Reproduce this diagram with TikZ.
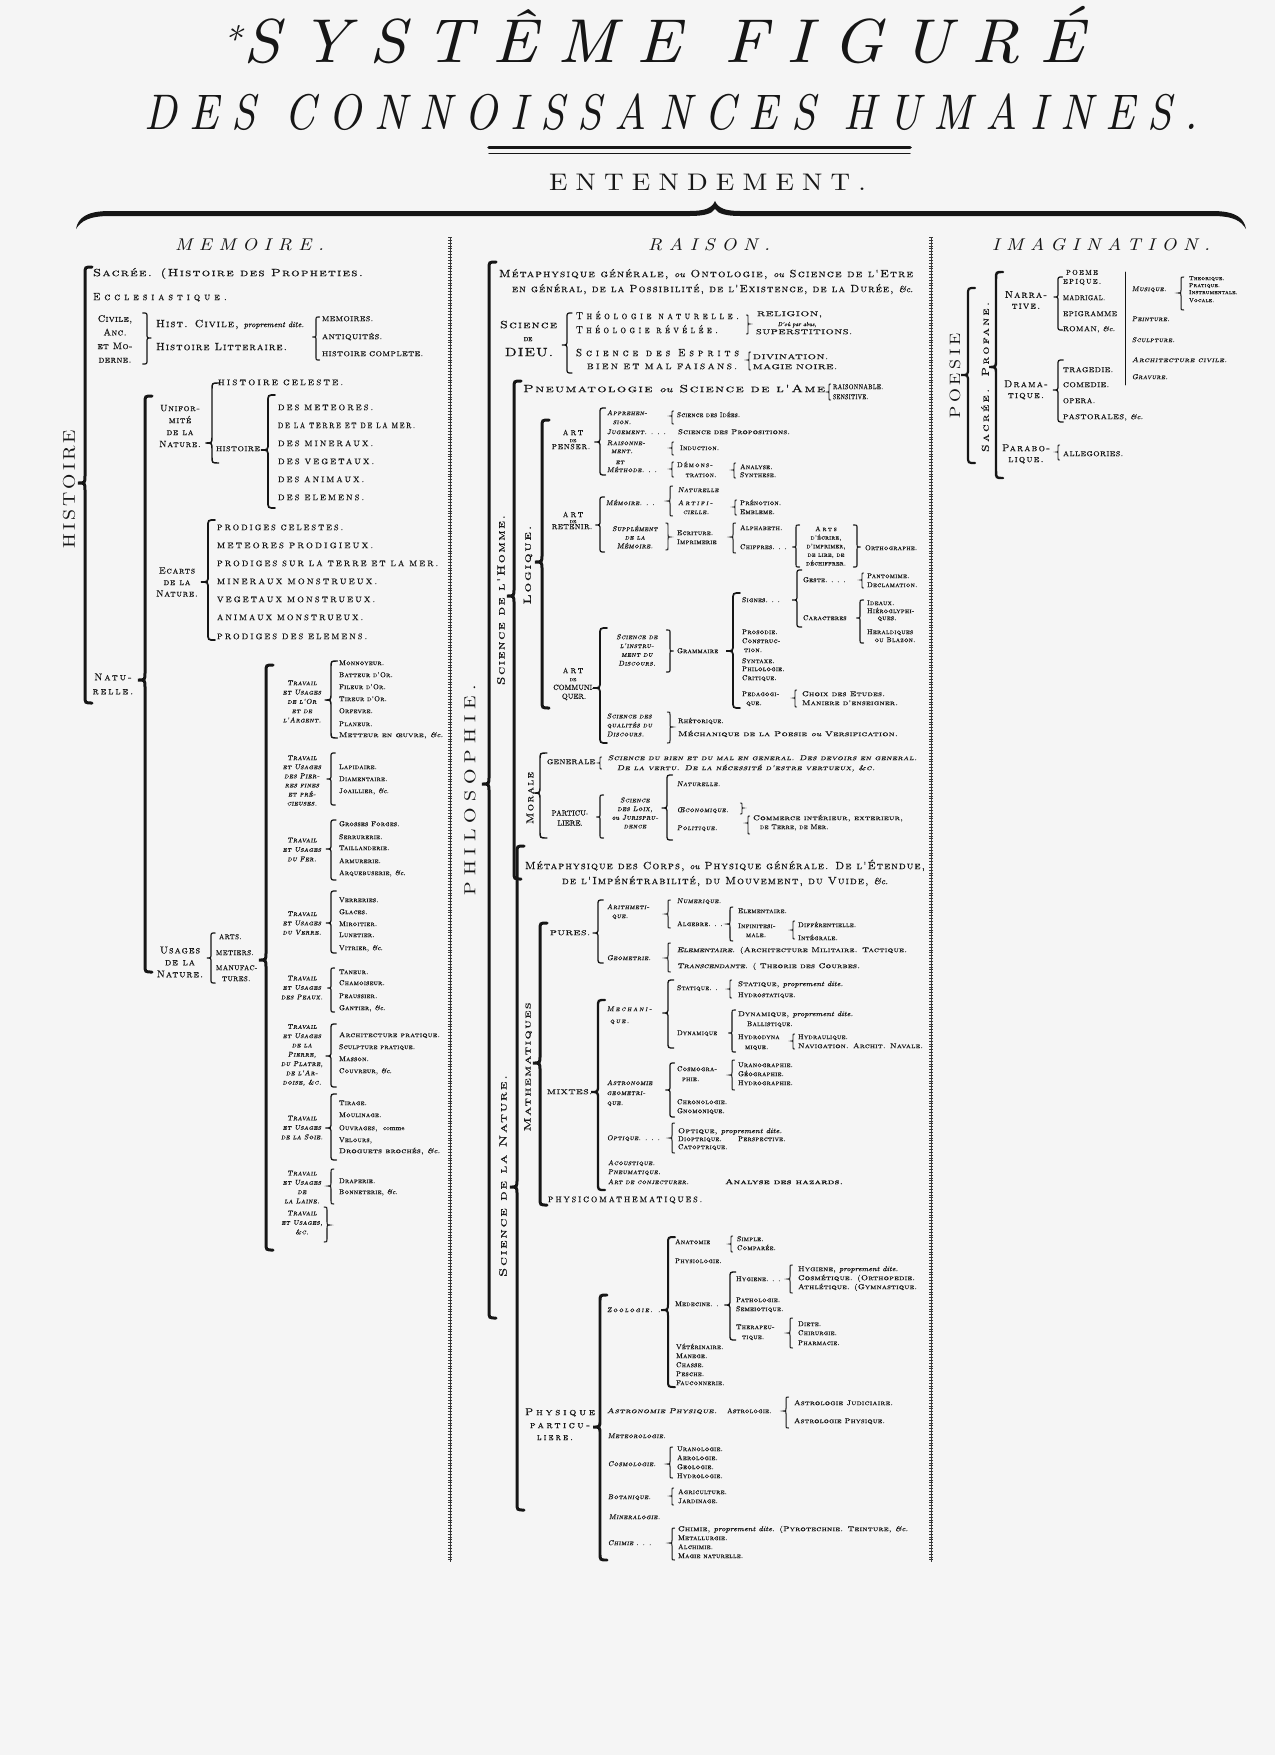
\documentclass[tikz,border=0pt]{standalone}
\usepackage{fontspec}
\usepackage{graphicx}
\setmainfont{lmroman10-regular}[Extension=.otf,ItalicFont=lmroman10-italic,BoldFont=lmroman10-bold,BoldItalicFont=lmroman10-bolditalic]
\newfontfamily\scF{lmromancaps10-regular}[Extension=.otf]
\newfontfamily\sciF{lmromancaps10-oblique}[Extension=.otf]
\definecolor{paper}{HTML}{F5F5F5}
\definecolor{ink}{HTML}{161616}
\newcommand\sz[2]{\fontsize{#1}{#2}\selectfont}
\newcommand\ls[1]{\addfontfeature{LetterSpace=#1}}
\newcommand\fb{\addfontfeature{FakeBold=0.6}}
\newcommand\Ou[1]{{\rmfamily\itshape\sz{#1}{#1}\fb ou}}
\newcommand\Pd[1]{{\rmfamily\itshape\sz{#1}{#1}\fb proprement dite.}}
\newcommand\Etc[1]{{\rmfamily\itshape\sz{#1}{#1}\fb\&c.}}
\newcommand\Tw[5]{\node[sL,#1] (#2) at (#3) {\resizebox{#4pt}{\height}{#5}};}
\newcommand\Tx[4]{\node[sL,#1] (#2) at (#3) {#4};}
\newcommand\LB[4]{%
 \pgfmathsetmacro\bw{min(7,max(1.6,(#4-#2)/12),(#3-#2)/2,(#4-#3)/2)}%
 \pgfmathsetmacro\bl{min(3,0.75+(#4-#2)/120)}%
 \draw[line width=\bl pt] ({#1+\bw},#2) .. controls (#1,#2) .. (#1,{#2+\bw}) -- (#1,{#3-\bw}) .. controls (#1,#3) .. ({#1-\bw},#3) .. controls (#1,#3) .. (#1,{#3+\bw}) -- (#1,{#4-\bw}) .. controls (#1,#4) .. ({#1+\bw},#4);}
\newcommand\RB[4]{%
 \pgfmathsetmacro\bw{min(7,max(1.6,(#4-#2)/12),(#3-#2)/2,(#4-#3)/2)}%
 \pgfmathsetmacro\bl{min(3,0.75+(#4-#2)/120)}%
 \draw[line width=\bl pt] ({#1-\bw},#2) .. controls (#1,#2) .. (#1,{#2+\bw}) -- (#1,{#3-\bw}) .. controls (#1,#3) .. ({#1+\bw},#3) .. controls (#1,#3) .. (#1,{#3+\bw}) -- (#1,{#4-\bw}) .. controls (#1,#4) .. ({#1-\bw},#4);}
\newcommand\Sep[1]{\draw[line width=0.45pt,line cap=butt,ink!85] (#1,237) -- (#1,1562); \draw[line width=4pt,line cap=butt,dash pattern=on 0.55pt off 2.3pt,ink!85] (#1,237) -- (#1,1562);}
\begin{document}
\begin{tikzpicture}[x=1pt,y=-1pt,color=ink,line cap=round,
  every node/.style={inner sep=0pt,outer sep=0pt},
  sL/.style={anchor=mid west}, sC/.style={anchor=mid}, sM/.style={anchor=center,align=center},
  sA/.style={font=\scF\sz{10.5}{13}\ls{10}\fb},
  sAw/.style={font=\scF\sz{10.5}{13}\ls{40}\fb},
  sU/.style={font=\rmfamily\sz{8}{10}\ls{25}\fb},
  sUs/.style={font=\rmfamily\sz{7}{9}\ls{6}\fb},
  st/.style={font=\scF\sz{7}{9}\ls{3}\fb},
  sti/.style={font=\sciF\sz{7}{9}\ls{6}\fb},
  sV/.style={rotate=90,anchor=center}]
\fill[paper] (0,0) rectangle (1275,1755);
\useasboundingbox (0,0) rectangle (1275,1755);
% ---------------- title
\node[anchor=base west,font=\rmfamily\itshape\sz{62}{62}\ls{30}] (title1) at (222,63) {\resizebox{862pt}{\height}{\raisebox{10pt}{\sz{36}{36}*}\hspace{2pt}SYSTÊME FIGURÉ}};
\node[anchor=base west,font=\rmfamily\itshape\sz{50}{50}\ls{30}] (title2) at (144,130) {\resizebox{1054pt}{\height}{DES CONNOISSANCES HUMAINES.}};
\draw[line width=3.6pt] (489,147.5) -- (910,147.5);
\draw[line width=1.1pt] (489,153.5) -- (910,153.5);
\node[anchor=base west,font=\rmfamily\sz{24}{24}\ls{30}] (entend) at (549,190) {\resizebox{317pt}{\height}{ENTENDEMENT.}};
\fill (76,229) .. controls (78,218) and (86,211) .. (110,211) -- (690,211) .. controls (705,211) and (712,208) .. (715,201) .. controls (718,208) and (725,211) .. (740,211) -- (1212,211) .. controls (1236,211) and (1244,218) .. (1246,229) .. controls (1241,221) and (1234,216) .. (1212,216) -- (740,216) .. controls (727,216) and (718,214) .. (715,209) .. controls (712,214) and (703,216) .. (690,216) -- (110,216) .. controls (89,216) and (81,221) .. (76,229) -- cycle;
\node[anchor=base west,font=\rmfamily\itshape\sz{17}{17}\ls{35}] (hmem) at (175,250) {\resizebox{149pt}{\height}{MEMOIRE.}};
\node[anchor=base west,font=\rmfamily\itshape\sz{17}{17}\ls{35}] (hrais) at (648,250) {\resizebox{122pt}{\height}{RAISON.}};
\node[anchor=base west,font=\rmfamily\itshape\sz{17}{17}\ls{35}] (himag) at (992,250) {\resizebox{218pt}{\height}{IMAGINATION.}};
\Sep{450}
\Sep{931}
% ---------------- MEMOIRE
\node[sV,font=\rmfamily\sz{17}{17}\ls{15}] (histoire) at (69,489) {\resizebox{118pt}{\height}{HISTOIRE}};
\LB{85}{267}{483}{703}
\Tw{sA}{sacree}{93,274}{270}{Sacrée. (Histoire des Propheties.}
\Tw{sAw}{eccl}{93,298}{134}{Ecclesiastique.}
\node[sM,font=\scF\sz{9.5}{13.6}\ls{4}\fb] (civile) at (115,339) {Civile,\\Anc.\\et Mo-\\derne.};
\RB{147}{313}{338}{364}
\Tw{sA}{hcivile}{156,325}{148}{Hist. Civile, \Pd{8}}
\Tw{sA}{hlitt}{156,348}{131}{Histoire Litteraire.}
\LB{316}{317}{337}{360}
\Tw{sUs}{memoires}{322,319}{51}{MEMOIRES.}
\Tw{sUs}{antiq}{322,337}{60}{ANTIQUITÉS.}
\Tw{sUs}{hcompl}{322,354}{101}{HISTOIRE COMPLETE.}
\node[sM,font=\scF\sz{10}{14}\ls{20}\fb] (naturelle) at (113,684) {Natu-\\relle.};
\LB{145}{396}{680}{972}
\node[sM,font=\scF\sz{9.2}{12}\ls{8}\fb] (uniform) at (180,426) {Unifor-\\mité\\de la\\Nature.};
\LB{212}{383}{443}{463}
\Tw{sU}{hceleste}{218,383}{125}{HISTOIRE CELESTE.}
\Tw{sUs}{histsub}{216,449}{44}{HISTOIRE}
\LB{268}{395}{450}{508}
\Tw{sU}{meteores}{278,408}{95}{DES METEORES.}
\Tw{sU}{terremer}{278,426}{137}{DE LA TERRE ET DE LA MER.}
\Tw{sU}{mineraux}{278,444}{95}{DES MINERAUX.}
\Tw{sU}{vegetaux}{278,462}{96}{DES VEGETAUX.}
\Tw{sU}{animaux}{278,480}{86}{DES ANIMAUX.}
\Tw{sU}{elemens}{278,498}{86}{DES ELEMENS.}
\node[sM,font=\scF\sz{9.2}{11.5}\ls{8}\fb] (ecarts) at (177,582) {Ecarts\\de la\\Nature.};
\LB{208}{520}{582}{640}
\Tw{sU}{pcelestes}{217,528}{126}{PRODIGES CELESTES.}
\Tw{sU}{mprodig}{217,546}{156}{METEORES PRODIGIEUX.}
\Tw{sU}{pterre}{217,564}{221}{PRODIGES SUR LA TERRE ET LA MER.}
\Tw{sU}{mmonstr}{217,582}{160}{MINERAUX MONSTRUEUX.}
\Tw{sU}{vmonstr}{217,600}{158}{VEGETAUX MONSTRUEUX.}
\Tw{sU}{amonstr}{217,618}{146}{ANIMAUX MONSTRUEUX.}
\Tw{sU}{pelemens}{217,637}{150}{PRODIGES DES ELEMENS.}
\node[sM,font=\scF\sz{10}{12}\ls{10}\fb] (usages) at (180,962) {Usages\\de la\\Nature.};
\LB{211}{933}{958}{983}
\Tx{sUs}{arts}{219,937}{ARTS.}
\Tx{sUs}{metiers}{216,953}{METIERS.}
\Tx{sUs}{manuf}{216,968}{MANUFAC-}
\Tx{sUs}{tures}{222,979}{TURES.}
\LB{266}{665}{960}{1250}
\node[sM,font=\sciF\sz{7}{9.3}\ls{6}\fb] (trA) at (302,701.5) {Travail\\et Usages\\de l'Or\\et de\\l'Argent.};
\node[sM,font=\sciF\sz{7}{9.1}\ls{6}\fb] (trB) at (302,780.5) {Travail\\et Usages\\des Pier-\\res fines\\et pré-\\cieuses.};
\node[sM,font=\sciF\sz{7}{9.5}\ls{6}\fb] (trC) at (302,849.5) {Travail\\et Usages\\du Fer.};
\node[sM,font=\sciF\sz{7}{9.3}\ls{6}\fb] (trD) at (302,923) {Travail\\et Usages\\du Verre.};
\node[sM,font=\sciF\sz{7}{9.5}\ls{6}\fb] (trE) at (302,987.5) {Travail\\et Usages\\des Peaux.};
\node[sM,font=\sciF\sz{7}{9.3}\ls{6}\fb] (trF) at (302,1055) {Travail\\et Usages\\de la\\Pierre,\\du Platre,\\de l'Ar-\\doise, \&c.};
\node[sM,font=\sciF\sz{7}{9.5}\ls{6}\fb] (trG) at (302,1127.5) {Travail\\et Usages\\de la Soie.};
\node[sM,font=\sciF\sz{7}{9.3}\ls{6}\fb] (trH) at (302,1187) {Travail\\et Usages\\de\\la Laine.};
\node[sM,font=\sciF\sz{7}{9.5}\ls{6}\fb] (trI) at (302,1222.5) {Travail\\et Usages,\\\&c.};
\LB{331}{661}{700}{738}
\LB{331}{753}{779}{805}
\LB{331}{820}{849}{880}
\LB{331}{891}{923}{953}
\LB{331}{968}{988}{1012}
\LB{331}{1024}{1056}{1087}
\LB{331}{1094}{1128}{1160}
\LB{331}{1169}{1186}{1204}
\RB{327}{1207}{1225}{1242}
\Tx{st}{ia1}{339,663}{Monnoyeur.}
\Tx{st}{ia2}{339,675}{Batteur d'Or.}
\Tx{st}{ia3}{339,687}{Fileur d'Or.}
\Tx{st}{ia4}{339,699}{Tireur d'Or.}
\Tx{st}{ia5}{339,711}{Orfevre.}
\Tx{st}{ia6}{339,724}{Planeur.}
\Tw{st}{ia7}{339,735}{104}{Metteur en œuvre, \Etc{7}}
\Tx{st}{ib1}{339,767}{Lapidaire.}
\Tx{st}{ib2}{339,779}{Diamentaire.}
\Tx{st}{ib3}{339,791}{Joaillier, \Etc{7}}
\Tx{st}{ic1}{339,824}{Grosses Forges.}
\Tx{st}{ic2}{339,837}{Serrurerie.}
\Tx{st}{ic3}{339,848}{Taillanderie.}
\Tx{st}{ic4}{339,861}{Armurerie.}
\Tx{st}{ic5}{339,873}{Arquebuserie, \Etc{7}}
\Tx{st}{id1}{339,900}{Verreries.}
\Tx{st}{id2}{339,912}{Glaces.}
\Tx{st}{id3}{339,924}{Miroitier.}
\Tx{st}{id4}{339,935}{Lunetier.}
\Tx{st}{id5}{339,948}{Vitrier, \Etc{7}}
\Tx{st}{ie1}{339,972}{Taneur.}
\Tx{st}{ie2}{339,983}{Chamoiseur.}
\Tx{st}{ie3}{339,996}{Peaussier.}
\Tx{st}{ie4}{339,1008}{Gantier, \Etc{7}}
\Tw{st}{if1}{339,1035}{101}{Architecture pratique.}
\Tx{st}{if2}{339,1047}{Sculpture pratique.}
\Tx{st}{if3}{339,1059}{Masson.}
\Tx{st}{if4}{339,1071}{Couvreur, \Etc{7}}
\Tx{st}{ig1}{339,1103}{Tirage.}
\Tx{st}{ig2}{339,1115}{Moulinage.}
\Tx{st}{ig3}{339,1128}{Ouvrages, \ {\rmfamily\fb comme}}
\Tx{st}{ig4}{339,1140}{Velours,}
\Tw{st}{ig5}{339,1151}{101}{Droguets brochés, \Etc{7}}
\Tx{st}{ih1}{339,1181}{Draperie.}
\Tx{st}{ih2}{339,1192}{Bonneterie, \Etc{7}}
% ---------------- RAISON
\node[sV,font=\rmfamily\sz{16}{16}\ls{30}] (philo) at (470,790) {\resizebox{211pt}{\height}{PHILOSOPHIE.}};
\LB{489}{262}{784}{1318}
\Tw{sA}{meta1}{499,275}{414}{Métaphysique générale, \Ou{9} Ontologie, \Ou{9} Science de l'Etre}
\Tw{sA}{meta2}{512,290}{401}{en général, de la Possibilité, de l'Existence, de la Durée, \Etc{9}}
\Tw{sC,sA}{sdieu1}{528.5,326}{57}{Science}
\node[sC,font=\rmfamily\sz{6}{6}\fb] (sdieu2) at (528,339) {DE};
\node[sC,font=\rmfamily\sz{12}{12}\ls{8}\fb] (sdieu3) at (529,354) {\resizebox{48pt}{\height}{DIEU.}};
\LB{567}{313}{345}{373}
\Tw{sAw}{theonat}{576,317}{163}{Théologie naturelle.}
\Tw{sAw}{theorev}{576,331}{142}{Théologie révélée.}
\Tw{sAw}{sesprits}{576,354}{163}{Science des Esprits}
\Tw{sU}{bienmal}{587,367}{150}{BIEN ET MAL FAISANS.}
\RB{748}{315}{324}{334}
\Tw{sUs}{religion}{757,314}{65}{RELIGION,}
\node[sC,font=\rmfamily\itshape\sz{6}{6}\fb] (abus) at (797,324) {D'où par abus,};
\Tw{sUs}{superst}{756,332}{96}{SUPERSTITIONS.}
\LB{749}{352}{360}{370}
\Tw{sUs}{divin}{753,357}{75}{DIVINATION.}
\Tw{sUs}{magien}{753,367}{84}{MAGIE NOIRE.}
\node[sV,font=\scF\sz{10.5}{10.5}\ls{12}\fb] (scihom) at (501,600) {\resizebox{170pt}{\height}{Science de l'Homme.}};
\LB{514}{381}{596}{879}
\Tw{sA}{pneumat}{523,390}{302}{Pneumatologie \Ou{9} Science de l'Ame}
\LB{829}{384}{392}{400}
\Tw{sUs}{raisonn}{833,387}{50}{RAISONNABLE.}
\Tw{sUs}{sensit}{833,397}{35}{SENSITIVE.}
\node[sV,font=\scF\sz{10.5}{10.5}\ls{12}\fb] (logique) at (528,565) {\resizebox{79pt}{\height}{Logique.}};
\LB{542}{420}{562}{708}
% art de penser
\node[sC,font=\rmfamily\sz{7.5}{7.5}\ls{30}\fb] (penA) at (573,433) {ART};
\node[sC,font=\rmfamily\sz{4.5}{4.5}\fb] (penB) at (573,440) {DE};
\node[sC,font=\rmfamily\sz{7.5}{7.5}\ls{12}\fb] (penC) at (571,447) {PENSER.};
\LB{600}{408}{442}{475}
\Tx{sti}{appr1}{607,413}{Apprehen-}
\Tx{sC,sti}{appr2}{622,422}{sion.}
\Tx{sti}{jugem}{607,432}{Jugement. . . .}
\Tw{st}{sprop}{678,432}{112}{Science des Propositions.}
\Tx{sti}{raisn1}{607,443}{Raisonne-}
\Tx{sC,sti}{raisn2}{622,451}{ment.}
\Tx{sC,sti}{etm}{620,462}{et}
\Tx{sti}{methode}{607,470}{Méthode. . .}
\LB{672}{411}{416}{424}
\Tw{st}{sidees}{677,415}{63}{Science des Idées.}
\LB{672}{442}{448}{455}
\Tx{st}{induct}{680,448}{Induction.}
\LB{672}{462}{469}{477}
\Tx{st}{demon1}{677,465}{\addfontfeature{LetterSpace=15}Démons-}
\Tx{sC,st}{demon2}{701,475}{tration.}
\LB{734}{463}{470}{478}
\Tx{st}{analyse}{740,467}{Analyse.}
\Tx{st}{synth}{740,475}{Synthese.}
% art de retenir
\node[sC,font=\rmfamily\sz{7.5}{7.5}\ls{30}\fb] (retA) at (573,515) {ART};
\node[sC,font=\rmfamily\sz{4.5}{4.5}\fb] (retB) at (573,521) {DE};
\node[sC,font=\rmfamily\sz{7.5}{7.5}\ls{6}\fb] (retC) at (572,527) {RETENIR.};
\LB{600}{497}{525}{552}
\Tx{sti}{memre}{606,503}{Mémoire. . .}
\LB{670}{486}{501}{516}
\Tx{sti}{natle}{678,490}{Naturelle}
\Tx{sti}{artifi}{678,503}{\addfontfeature{LetterSpace=25}Artifi-}
\Tx{sC,sti}{cielle}{696,512}{cielle.}
\LB{735}{500}{507}{515}
\Tx{st}{prenot}{740,503}{Prénotion.}
\Tx{st}{emblem}{740,512}{Embleme.}
\node[sM,font=\sciF\sz{7}{8.6}\ls{6}\fb] (supplem) at (635,537) {Supplément\\de la\\Mémoire.};
\RB{668}{523}{537}{550}
\Tx{st}{ecrit}{677,533}{Ecriture.}
\Tx{st}{imprim}{677,542}{Imprimerie}
\LB{733}{523}{537}{553}
\Tx{st}{alphab}{740,528}{Alphabeth.}
\Tx{st}{chiffr}{740,547}{Chiffres. . .}
\LB{796}{525}{547}{567}
\node[sM,font=\scF\sz{6.5}{8.6}\ls{3}\fb] (artsecr) at (826,546) {{\ls{30}Arts}\\d'écrire,\\d'imprimer,\\de lire, de\\déchiffrer.};
\RB{857}{525}{547}{567}
\Tx{st}{orthog}{865,548}{Orthographe.}
% art de communiquer
\node[sC,font=\rmfamily\sz{7.5}{7.5}\ls{30}\fb] (comA) at (573,671) {ART};
\node[sC,font=\rmfamily\sz{4.5}{4.5}\fb] (comB) at (573,679) {DE};
\node[sM,font=\rmfamily\sz{7.5}{9}\fb] (comC) at (574,692.5) {COMMUNI-\\QUER.};
\LB{600}{628}{688}{743}
\node[sM,font=\sciF\sz{7}{8.8}\ls{6}\fb] (sinstr) at (637,650) {Science de\\l'instru-\\ment du\\Discours.};
\RB{670}{630}{651}{672}
\Tx{st}{gramm}{677,651}{Grammaire}
\LB{733}{593}{651}{708}
\Tx{st}{signes}{742,600}{Signes. . .}
\LB{797}{570}{600}{627}
\Tx{st}{geste}{803,580}{Geste. . . .}
\LB{862}{573}{580}{588}
\Tx{st}{panto}{867,576}{Pantomime.}
\Tx{st}{declam}{867,585}{Declamation.}
\Tx{st}{caract}{803,618}{Caracteres}
\LB{860}{600}{618}{643}
\Tx{st}{ideaux}{867,603}{Ideaux.}
\Tx{st}{hierog}{867,611}{Hiéroglyphi-}
\Tx{sC,st}{hques}{887,618}{ques.}
\Tx{st}{herald}{867,632}{Heraldiques}
\Tx{sC,st}{blazon}{895,640}{ou Blazon.}
\Tx{st}{prosod}{742,632}{Prosodie.}
\Tx{st}{constr}{742,641}{Construc-}
\Tx{sC,st}{ction}{753,650}{tion.}
\Tx{st}{syntax}{742,661}{Syntaxe.}
\Tx{st}{philol}{742,669}{Philologie.}
\Tx{st}{critiq}{742,678}{Critique.}
\Tx{st}{pedag}{742,694}{Pedagogi-}
\Tx{sC,st}{pque}{754,703}{que.}
\LB{795}{690}{698}{707}
\Tw{st}{choix}{802,694}{83}{Choix des Etudes.}
\Tw{st}{maniere}{802,703}{96}{Maniere d'enseigner.}
\node[anchor=west,align=left,font=\sciF\sz{7}{9}\ls{6}\fb] (squal) at (607,725) {Science des\\qualités du\\Discours.};
\RB{670}{712}{727}{743}
\Tx{st}{rhetor}{678,721}{Rhétorique.}
\Tw{st}{mechan}{678,734}{220}{Méchanique de la Poesie \Ou{7} Versification.}
% morale
\node[sV,font=\scF\sz{10}{10}\ls{12}\fb] (morale) at (530,798) {\resizebox{52pt}{\height}{Morale}};
\LB{540}{753}{793}{838}
\Tw{sUs}{generale}{547,762}{48}{GENERALE}
\LB{600}{757}{763}{769}
\Tw{sti}{sbien1}{608,758}{309}{Science du bien et du mal en general. Des devoirs en general.}
\Tw{sti}{sbien2}{617,768}{258}{De la vertu. De la nécessité d'estre vertueux, \&c.}
\node[sM,font=\rmfamily\sz{7.5}{10}\fb] (particu) at (570,818) {PARTICU-\\LIERE.};
\LB{600}{795}{817}{838}
\node[sM,font=\sciF\sz{7}{8.7}\ls{6}\fb] (sloix) at (635,813) {Science\\des Loix,\\\Ou{7} Jurispru-\\dence};
\LB{667}{775}{808}{840}
\Tx{sti}{natrl}{677,784}{Naturelle.}
\Tx{sti}{oecon}{677,810}{Œconomique.}
\Tx{sti}{polit}{677,828}{Politique.}
\RB{742}{803}{808}{814}
\LB{748}{816}{823}{834}
\Tw{st}{commer}{753,818}{150}{Commerce intérieur, exterieur,}
\Tx{st}{terremr}{760,827}{de Terre, de Mer.}
% science de la nature
\node[sV,font=\scF\sz{10.5}{10.5}\ls{12}\fb] (scinat) at (503,1176) {\resizebox{202pt}{\height}{Science de la Nature.}};
\LB{517}{846}{1187}{1510}
\Tw{sA}{mcorps1}{525,867}{400}{Métaphysique des Corps, \Ou{9} Physique générale. De l'Étendue,}
\Tw{sA}{mcorps2}{562,882}{326}{de l'Impénétrabilité, du Mouvement, du Vuide, \Etc{9}}
\node[sV,font=\scF\sz{9.5}{9.5}\ls{10}\fb] (mathem) at (528,1067) {\resizebox{129pt}{\height}{Mathematiques}};
\LB{540}{923}{1063}{1205}
\Tw{sUs}{pures}{550,933}{40}{PURES.}
\LB{598}{900}{933}{963}
\Tx{sti}{arith1}{607,907}{Arithmeti-}
\Tx{sC,sti}{arith2}{620,916}{que.}
\LB{668}{900}{914}{928}
\Tx{sti}{numer}{677,901}{Numerique.}
\Tx{st}{algeb}{677,924}{Algebre. . .}
\LB{730}{907}{924}{941}
\Tx{st}{elemt}{738,911}{Elementaire.}
\Tx{st}{infin1}{738,926}{Infinitesi-}
\Tx{sC,st}{infin2}{756,935}{male.}
\LB{793}{921}{930}{939}
\Tx{st}{differ}{798,925}{Différentielle.}
\Tx{st}{integr}{798,938}{Intégrale.}
\Tx{sti}{geomet}{607,958}{Geometrie.}
\LB{668}{943}{958}{972}
\Tw{st}{geom1}{677,950}{230}{{\sciF\fb Elementaire.} (Architecture Militaire. Tactique.}
\Tw{st}{geom2}{677,966}{183}{{\sciF\fb Transcendante.} ( Theorie des Courbes.}
\Tw{sUs}{mixtes}{547,1092}{45}{MIXTES.}
\LB{598}{1000}{1092}{1190}
\Tx{sti}{mecha1}{607,1009}{\addfontfeature{LetterSpace=25}Mechani-}
\Tx{sti}{mecha2}{610,1021}{\addfontfeature{LetterSpace=20}que.}
\LB{668}{980}{1013}{1048}
\Tx{st}{statiq}{677,988}{Statique. .}
\LB{730}{980}{989}{998}
\Tw{st}{stat1}{738,984}{105}{Statique, \Pd{7}}
\Tx{st}{stat2}{738,995}{Hydrostatique.}
\Tx{st}{dynam}{677,1033}{Dynamique}
\LB{732}{1010}{1033}{1052}
\Tw{st}{dyn1}{738,1014}{115}{Dynamique, \Pd{7}}
\Tx{st}{dyn2}{747,1024}{Ballistique.}
\Tx{st}{dyn3}{738,1037}{Hydrodyna}
\Tx{st}{dyn4}{745,1047}{mique.}
\LB{793}{1034}{1041}{1049}
\Tx{st}{hydrau}{798,1037}{Hydraulique.}
\Tw{st}{navig}{798,1046}{125}{Navigation. Archit. Navale.}
\node[anchor=west,align=left,font=\sciF\sz{7}{10}\ls{6}\fb] (astgeo) at (607,1093) {Astronomie\\ geometri-\\ que.};
\LB{670}{1063}{1090}{1117}
\Tx{st}{cosmg1}{677,1069}{Cosmogra-}
\Tx{st}{cosmg2}{682,1079}{phie.}
\LB{732}{1060}{1075}{1090}
\Tx{st}{uranog}{738,1065}{Uranographie.}
\Tx{st}{geogr}{738,1074}{Géographie.}
\Tx{st}{hydrog}{738,1083}{Hydrographie.}
\Tx{st}{chrono}{677,1102}{Chronologie.}
\Tx{st}{gnomon}{677,1111}{Gnomonique.}
\Tx{sti}{optiq}{607,1138}{Optique. . . .}
\LB{672}{1123}{1138}{1153}
\Tw{st}{opt1}{678,1131}{104}{Optique, \Pd{7}}
\Tx{st}{opt2}{678,1139}{Dioptrique.}
\Tx{st}{perspc}{738,1139}{Perspective.}
\Tx{st}{opt3}{678,1147}{Catoptrique.}
\Tx{sti}{acoust}{608,1163}{Acoustique.}
\Tx{sti}{pneumq}{608,1172}{Pneumatique.}
\Tx{sti}{conject}{608,1182}{Art de conjecturer.}
\Tw{st}{hazard}{725,1182}{118}{\addfontfeature{FakeBold=1.8}Analyse des hazards.}
\Tw{sU}{physmath}{548,1200}{154}{PHYSICOMATHEMATIQUES.}
% physique particuliere
\node[sC,font=\scF\sz{10}{10}\ls{25}\fb] (phys1) at (560,1413) {\resizebox{70pt}{\height}{Physique}};
\node[sC,font=\scF\sz{10}{10}\ls{25}\fb] (phys2) at (560,1426) {\resizebox{60pt}{\height}{particu-}};
\node[sC,font=\scF\sz{10}{10}\ls{25}\fb] (phys3) at (555,1438) {\resizebox{36pt}{\height}{liere.}};
\LB{600}{1295}{1427}{1560}
\Tx{sti}{zoolog}{607,1310}{\addfontfeature{LetterSpace=20}Zoologie. . .}
\LB{668}{1237}{1310}{1387}
\Tx{st}{anatom}{675,1242}{Anatomie}
\LB{731}{1236}{1244}{1252}
\Tx{st}{simple}{737,1239}{Simple.}
\Tx{st}{compar}{737,1248}{Comparée.}
\Tx{st}{physio}{675,1261}{Physiologie.}
\Tx{st}{medec}{675,1304}{Medecine. .}
\LB{730}{1272}{1305}{1340}
\Tx{st}{hygien}{736,1279}{Hygiene. . .}
\LB{790}{1265}{1279}{1293}
\Tw{st}{hyg1}{798,1269}{100}{Hygiene, \Pd{7}}
\Tw{st}{hyg2}{798,1278}{117}{Cosmétique. (Orthopedie.}
\Tw{st}{hyg3}{798,1287}{119}{Athlétique. (Gymnastique.}
\Tx{st}{pathol}{736,1300}{Pathologie.}
\Tx{st}{semeio}{736,1309}{Semeiotique.}
\Tx{st}{thera1}{736,1327}{Therapeu-}
\Tx{st}{thera2}{742,1337}{tique.}
\LB{790}{1318}{1333}{1348}
\Tx{st}{diete}{798,1324}{Diete.}
\Tx{st}{chirur}{798,1333}{Chirurgie.}
\Tx{st}{pharma}{798,1343}{Pharmacie.}
\Tx{st}{veter}{676,1347}{Vétérinaire.}
\Tx{st}{manege}{676,1356}{Manege.}
\Tx{st}{chasse}{676,1365}{Chasse.}
\Tx{st}{pesche}{676,1374}{Pesche.}
\Tx{st}{faucon}{676,1383}{Fauconnerie.}
\Tw{sti}{astphy}{607,1411}{110}{Astronomie Physique.}
\Tx{st}{astrol}{727,1411}{Astrologie.}
\LB{786}{1397}{1411}{1428}
\Tw{st}{astjud}{794,1403}{99}{Astrologie Judiciaire.}
\Tw{st}{astphs}{794,1421}{91}{Astrologie Physique.}
\Tx{sti}{meteor}{608,1436}{Meteorologie.}
\Tx{sti}{cosmol}{608,1464}{Cosmologie.}
\LB{670}{1447}{1464}{1478}
\Tx{st}{uranol}{677,1449}{Uranologie.}
\Tx{st}{aerol}{677,1458}{Aerologie.}
\Tx{st}{geolog}{677,1467}{Geologie.}
\Tx{st}{hydrol}{677,1476}{Hydrologie.}
\Tx{sti}{botan}{608,1497}{Botanique.}
\LB{672}{1488}{1496}{1505}
\Tx{st}{agric}{678,1492}{Agriculture.}
\Tx{st}{jardin}{678,1501}{Jardinage.}
\Tx{sti}{minera}{609,1517}{Mineralogie.}
\Tx{sti}{chimie}{608,1543}{Chimie . . .}
\LB{672}{1528}{1543}{1560}
\Tw{st}{chim1}{678,1529}{230}{Chimie, \Pd{7} (Pyrotechnie. Teinture, \Etc{7}}
\Tx{st}{chim2}{678,1538}{Metallurgie.}
\Tx{st}{chim3}{678,1547}{Alchimie.}
\Tx{st}{chim4}{678,1556}{Magie naturelle.}
% ---------------- IMAGINATION
\node[sV,font=\rmfamily\sz{15}{15}\ls{20}] (poesie) at (955,376) {\resizebox{85pt}{\height}{POESIE}};
\LB{968}{288}{375}{463}
\node[sV,font=\scF\sz{10}{10}\ls{20}\fb] (sacprof) at (985,377) {\resizebox{150pt}{\height}{Sacrée.\hspace{10pt}Profane.}};
\LB{996}{272}{367}{478}
\node[sM,font=\scF\sz{10}{11}\ls{12}\fb] (narrat) at (1026,300) {Narra-\\tive.};
\LB{1058}{277}{297}{330}
\node[sM,font=\rmfamily\sz{7}{9}\ls{20}\fb] (poeme) at (1082,277.5) {POEME\\EPIQUE.};
\Tw{sUs}{madrig}{1063,298}{42}{MADRIGAL.}
\Tw{sUs}{epigr}{1063,314}{54}{EPIGRAMME}
\Tw{sUs}{roman}{1063,329}{52}{ROMAN, \Etc{7}}
\draw[line width=0.8pt] (1125,272) -- (1125,385);
\Tx{sti}{musiq}{1132,289}{Musique.}
\LB{1181}{277}{293}{310}
\Tx{st}{theor}{1189,278}{\sz{6}{6}Theorique.}
\Tx{st}{pratiq}{1189,285}{\sz{6}{6}Pratique.}
\Tx{st}{instrm}{1189,292}{\sz{6}{6}Instrumentale.}
\Tx{st}{vocal}{1189,300}{\sz{6}{6}Vocale.}
\Tx{sti}{peint}{1132,319}{Peinture.}
\Tx{sti}{sculpt}{1132,340}{Sculpture.}
\Tw{sti}{archciv}{1132,360}{95}{Architecture civile.}
\Tx{sti}{gravur}{1132,377}{Gravure.}
\node[sM,font=\scF\sz{10}{11}\ls{12}\fb] (dramat) at (1026,390) {Drama-\\tique.};
\LB{1058}{360}{390}{422}
\Tw{sUs}{trag}{1063,370}{50}{TRAGEDIE.}
\Tw{sUs}{comed}{1063,385}{46}{COMEDIE.}
\Tw{sUs}{opera}{1063,401}{32}{OPERA.}
\Tw{sUs}{pastor}{1063,417}{80}{PASTORALES, \Etc{7}}
\node[sM,font=\scF\sz{10}{11}\ls{12}\fb] (parab) at (1026,454) {Parabo-\\lique.};
\LB{1058}{445}{452}{460}
\Tw{sUs}{allegor}{1063,454}{60}{ALLEGORIES.}
\end{tikzpicture}
\end{document}
